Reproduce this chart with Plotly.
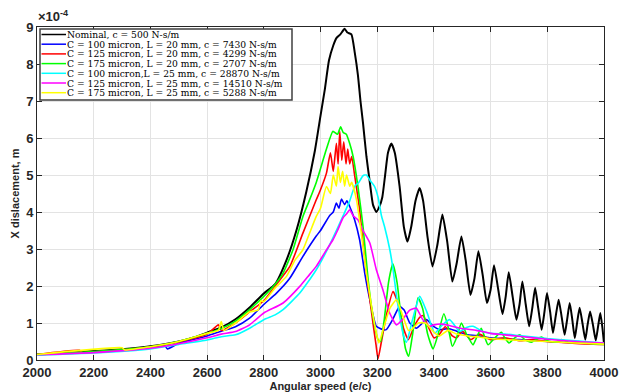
import plotly.graph_objects as go

# ---------------- data (values in 1e-4 m) ----------------
nom_x = [2000, 2100, 2200, 2300, 2400, 2500, 2550, 2600, 2650, 2700, 2750, 2800, 2840, 2880, 2915, 2950,
         2980, 3000, 3015, 3030, 3045, 3056, 3070, 3085, 3095, 3109, 3121, 3132, 3141, 3150, 3162,
         3174, 3185, 3197, 3208, 3218, 3228, 3238, 3250, 3262, 3279, 3294, 3307, 3320, 3335, 3350, 3362,
         3378, 3395, 3412, 3430, 3447, 3465, 3480, 3497, 3512, 3529, 3543, 3557, 3572, 3587, 3600, 3612,
         3627, 3642, 3653, 3664, 3678, 3691, 3702, 3712, 3724, 3736, 3747, 3757, 3768, 3780, 3790, 3799,
         3810, 3820, 3830, 3840, 3850, 3861, 3870, 3879, 3888, 3897, 3905, 3914, 3924, 3934, 3942, 3951,
         3961, 3971, 3979, 3987, 3994, 4000]
nom_y = [0.15, 0.19, 0.24, 0.29, 0.37, 0.50, 0.60, 0.74, 0.88, 1.10, 1.42, 1.80, 2.05, 2.70, 3.50, 4.55,
         5.65, 6.60, 7.30, 8.10, 8.50, 8.70, 8.80, 8.95, 8.85, 8.80, 8.30, 7.70, 7.00, 6.40, 5.50,
         4.80, 4.20, 4.00, 4.15, 4.40, 5.00, 5.60, 5.85, 5.60, 4.69, 3.60, 3.20, 3.60, 4.30, 4.65, 4.30,
         3.30, 2.53, 3.10, 3.93, 3.20, 2.12, 2.60, 3.34, 2.70, 1.76, 2.20, 2.94, 2.30, 1.54, 1.90, 2.56,
         1.90, 1.24, 1.70, 2.37, 1.70, 1.09, 1.50, 2.12, 1.50, 0.91, 1.40, 1.95, 1.40, 0.82, 1.30, 1.81,
         1.30, 0.73, 1.20, 1.63, 1.20, 0.68, 1.10, 1.54, 1.10, 0.59, 1.00, 1.41, 1.00, 0.55, 0.95, 1.31,
         0.95, 0.53, 0.90, 1.27, 0.90, 0.45]

blue_x = [2000, 2200, 2400, 2450, 2460, 2500, 2600, 2650, 2700, 2750, 2800, 2844, 2891, 2938, 2985,
          3000, 3032, 3045, 3056, 3065, 3074, 3085, 3093, 3103, 3120, 3138, 3156, 3174, 3197, 3220, 3232,
          3255, 3279, 3295, 3315, 3338, 3360, 3374, 3400, 3421, 3450, 3480, 3520, 3560, 3600, 3700, 3800,
          3900, 4000]
blue_y = [0.14, 0.21, 0.33, 0.40, 0.30, 0.45, 0.65, 0.78, 0.90, 1.13, 1.50, 1.80, 2.20, 2.80, 3.35,
          3.50, 3.90, 4.00, 4.24, 4.10, 4.35, 4.20, 4.30, 4.15, 3.80, 3.25, 2.35, 1.63, 0.91, 0.82, 0.82,
          1.10, 1.45, 1.35, 1.00, 0.86, 1.00, 1.09, 0.90, 0.82, 0.85, 0.78, 0.68, 0.65, 0.60, 0.55, 0.50,
          0.46, 0.43]

red_x = [2000, 2150, 2160, 2200, 2400, 2500, 2600, 2640, 2650, 2700, 2750, 2800, 2840, 2892, 2938,
         2985, 3000, 3021, 3035, 3045, 3056, 3062, 3068, 3075, 3082, 3090, 3096, 3103, 3110, 3121, 3138,
         3150, 3168, 3185, 3196, 3203, 3215, 3235, 3256, 3275, 3293, 3310, 3330, 3350, 3362, 3380, 3400,
         3415, 3440, 3465, 3480, 3500, 3530, 3560, 3600, 3650, 3700, 3750, 3800, 3900, 4000]
red_y = [0.15, 0.26, 0.20, 0.22, 0.35, 0.49, 0.70, 0.95, 0.80, 1.00, 1.30, 1.60, 2.00, 2.53, 3.43,
         4.33, 4.60, 5.05, 5.60, 5.10, 5.86, 5.30, 6.18, 5.40, 5.90, 5.30, 5.70, 5.30, 5.50, 4.96, 4.06,
         3.16, 1.99, 1.00, 0.40, 0.03, 0.50, 1.30, 1.85, 1.50, 0.85, 0.55, 0.90, 1.15, 1.20, 0.90, 0.60,
         0.65, 0.90, 0.65, 0.60, 0.78, 0.55, 0.70, 0.55, 0.60, 0.52, 0.55, 0.50, 0.45, 0.42]

green_x = [2000, 2200, 2400, 2500, 2600, 2650, 2700, 2750, 2800, 2840, 2868, 2903, 2938, 2960, 2985, 3021,
           3044, 3060, 3071, 3080, 3091, 3103, 3115, 3132, 3150, 3168, 3185, 3203, 3212, 3225, 3240, 3255,
           3270, 3285, 3300, 3311, 3325, 3344, 3360, 3378, 3397, 3415, 3435, 3450, 3465, 3480, 3497, 3515,
           3538, 3550, 3567, 3580, 3591, 3615, 3638, 3650, 3665, 3685, 3703, 3720, 3744, 3760, 3779, 3800,
           3830, 3850, 3880, 3910, 3950, 4000]
green_y = [0.15, 0.23, 0.36, 0.50, 0.72, 0.85, 1.05, 1.36, 1.72, 2.05, 2.35, 2.98, 3.88, 4.30, 4.80, 5.70,
           6.18, 6.10, 6.30, 6.15, 6.10, 5.85, 5.50, 4.69, 3.61, 2.17, 1.18, 0.55, 0.50, 1.10, 2.10, 2.60,
           2.10, 1.10, 0.30, 0.10, 0.70, 1.68, 1.40, 0.70, 0.30, 0.70, 1.25, 0.90, 0.37, 0.60, 1.00, 0.70,
           0.41, 0.60, 0.86, 0.60, 0.41, 0.60, 0.75, 0.60, 0.46, 0.60, 0.68, 0.55, 0.48, 0.55, 0.62, 0.52,
           0.48, 0.55, 0.47, 0.50, 0.45, 0.42]

cyan_x = [2000, 2200, 2400, 2500, 2600, 2650, 2700, 2750, 2800, 2840, 2868, 2927, 2955, 2985, 3015, 3044,
          3080, 3103, 3121, 3135, 3150, 3162, 3175, 3190, 3203, 3215, 3226, 3244, 3256, 3268, 3279, 3293,
          3303, 3325, 3350, 3375, 3403, 3430, 3456, 3491, 3515, 3538, 3570, 3600, 3650, 3700, 3800, 3900,
          4000]
cyan_y = [0.13, 0.19, 0.30, 0.42, 0.54, 0.63, 0.68, 0.86, 1.09, 1.22, 1.36, 1.81, 2.10, 2.44, 2.85, 3.30,
          3.90, 4.30, 4.70, 4.80, 4.98, 5.00, 4.85, 4.70, 4.40, 3.90, 3.60, 3.00, 2.45, 1.75, 1.20, 0.65,
          0.48, 1.10, 1.72, 1.30, 0.73, 0.95, 1.09, 0.77, 0.88, 0.91, 0.78, 0.72, 0.70, 0.66, 0.58, 0.52,
          0.46]

mag_x = [2000, 2200, 2400, 2500, 2600, 2650, 2700, 2750, 2800, 2868, 2927, 2955, 2985, 3015, 3044,
         3060, 3080, 3092, 3103, 3115, 3132, 3150, 3174, 3197, 3220, 3244, 3268, 3290, 3315, 3338, 3360,
         3385, 3400, 3430, 3460, 3500, 3550, 3600, 3650, 3700, 3800, 3900, 4000]
mag_y = [0.14, 0.20, 0.32, 0.44, 0.60, 0.70, 0.77, 0.95, 1.27, 1.54, 1.99, 2.25, 2.53, 2.90, 3.25,
         3.50, 3.85, 3.95, 4.06, 3.90, 3.79, 3.50, 3.16, 2.44, 1.90, 1.27, 0.95, 1.10, 1.35, 1.40, 1.10,
         0.91, 0.95, 0.97, 0.92, 0.85, 0.80, 0.72, 0.68, 0.64, 0.56, 0.50, 0.46]

yel_x = [2000, 2300, 2310, 2400, 2500, 2600, 2640, 2650, 2660, 2700, 2750, 2780, 2790, 2800, 2840, 2880,
         2910, 2938, 2960, 2985, 3000, 3021, 3035, 3045, 3056, 3062, 3070, 3078, 3085, 3092, 3103,
         3110, 3127, 3144, 3162, 3180, 3197, 3206, 3220, 3245, 3268, 3290, 3310, 3321, 3345, 3370, 3400,
         3420, 3450, 3480, 3520, 3560, 3600, 3700, 3800, 3900, 4000]
yel_y = [0.15, 0.33, 0.27, 0.36, 0.50, 0.72, 0.80, 1.04, 0.80, 1.00, 1.30, 1.35, 1.60, 1.58, 1.95, 2.26,
         2.70, 2.98, 3.40, 3.88, 4.10, 4.69, 4.50, 5.00, 4.70, 5.23, 4.80, 5.10, 4.70, 5.00, 4.70,
         4.80, 4.33, 3.43, 2.35, 1.45, 0.73, 0.46, 0.80, 1.40, 1.63, 1.20, 0.80, 0.82, 1.00, 1.00, 0.75,
         0.65, 0.80, 0.70, 0.65, 0.62, 0.58, 0.53, 0.50, 0.46, 0.43]

names = ["Nominal, c = 500 N-s/m",
         "C = 100 micron, L = 20 mm, c = 7430 N-s/m",
         "C = 125 micron, L = 20 mm, c = 4299 N-s/m",
         "C = 175 micron, L = 20 mm, c = 2707 N-s/m",
         "C = 100 micron,L = 25 mm, c = 28870 N-s/m",
         "C = 125 micron, L = 25 mm, c = 14510 N-s/m",
         "C = 175 micron, L = 25 mm, c = 5288 N-s/m"]
colors = ["#000000", "#0000ff", "#ff0000", "#00ff00", "#00ffff", "#ff00ff", "#ffff00"]
xs = [nom_x, blue_x, red_x, green_x, cyan_x, mag_x, yel_x]
ys = [nom_y, blue_y, red_y, green_y, cyan_y, mag_y, yel_y]

x_ticks = [2000, 2200, 2400, 2600, 2800, 3000, 3200, 3400, 3600, 3800, 4000]
y_ticks = [0, 1, 2, 3, 4, 5, 6, 7, 8, 9]

# ---------------- figure ----------------
fig = go.Figure()
for x, y, c, n in zip(xs, ys, colors, names):
    fig.add_trace(go.Scatter(x=x, y=y, mode="lines", name=n,
                             line=dict(color=c, width=2 if c == "#000000" else 1.6,
                                       shape="spline", smoothing=0.5),
                             showlegend=False))

W, H = 620, 392
L, R, T, B = 37, 16, 27, 32
pw, ph = W - L - R, H - T - B

def px2paper(px, py):
    return (px - L) / pw, (H - B - py) / ph

# manual legend (box, sample lines, text)
bx0, by0 = px2paper(40, 29)
bx1, by1 = px2paper(292, 100)
fig.add_shape(type="rect", xref="paper", yref="paper", x0=bx0, y0=by1, x1=bx1, y1=by0,
              line=dict(color="#404040", width=1.5), fillcolor="white", layer="above")
row0 = 34.5
dy = 9.7
for i, (n, c) in enumerate(zip(names, colors)):
    ry = row0 + i * dy
    lx0, ly = px2paper(41.5, ry)
    lx1, _ = px2paper(66, ry)
    fig.add_shape(type="line", xref="paper", yref="paper", x0=lx0, x1=lx1, y0=ly, y1=ly,
                  line=dict(color=c, width=1.5), layer="above")
    tx, _ = px2paper(66, ry)
    fig.add_annotation(xref="paper", yref="paper", x=tx, y=ly, text=n, showarrow=False,
                       xanchor="left", yanchor="middle", borderpad=0,
                       font=dict(family="DejaVu Serif", size=9.2, color="black"))

# exponent label
fig.add_annotation(xref="paper", yref="paper", x=0.0, y=1.0, yshift=1, xshift=-1,
                   text="\u00d710<sup>-4</sup>", showarrow=False, xanchor="left", yanchor="bottom",
                   font=dict(family="Liberation Sans", size=13, color="#262626", weight="bold"))

axis_common = dict(showline=True, linecolor="#262626", linewidth=1, mirror="ticks",
                   ticks="inside", ticklen=5, tickcolor="#262626", automargin=False,
                   showgrid=True, gridcolor="#e3e3e3", gridwidth=1, zeroline=False,
                   tickfont=dict(family="Liberation Sans", size=13, color="#262626", weight="bold"))

fig.update_xaxes(range=[2000, 4000], tickvals=x_ticks, ticktext=[str(v) for v in x_ticks],
                 title=dict(text="Angular speed (e/c)", standoff=2,
                            font=dict(family="Liberation Sans", size=11, color="#262626", weight="bold")),
                 **axis_common)
fig.update_yaxes(range=[0, 9], tickvals=y_ticks, ticktext=[str(v) for v in y_ticks],
                 title=dict(text="X dislacement, m", standoff=4,
                            font=dict(family="Liberation Sans", size=11, color="#262626", weight="bold")),
                 **axis_common)

fig.update_layout(width=W, height=H, margin=dict(l=L, r=R, t=T, b=B),
                  paper_bgcolor="white", plot_bgcolor="white", showlegend=False)

fig.write_html("out.html")
